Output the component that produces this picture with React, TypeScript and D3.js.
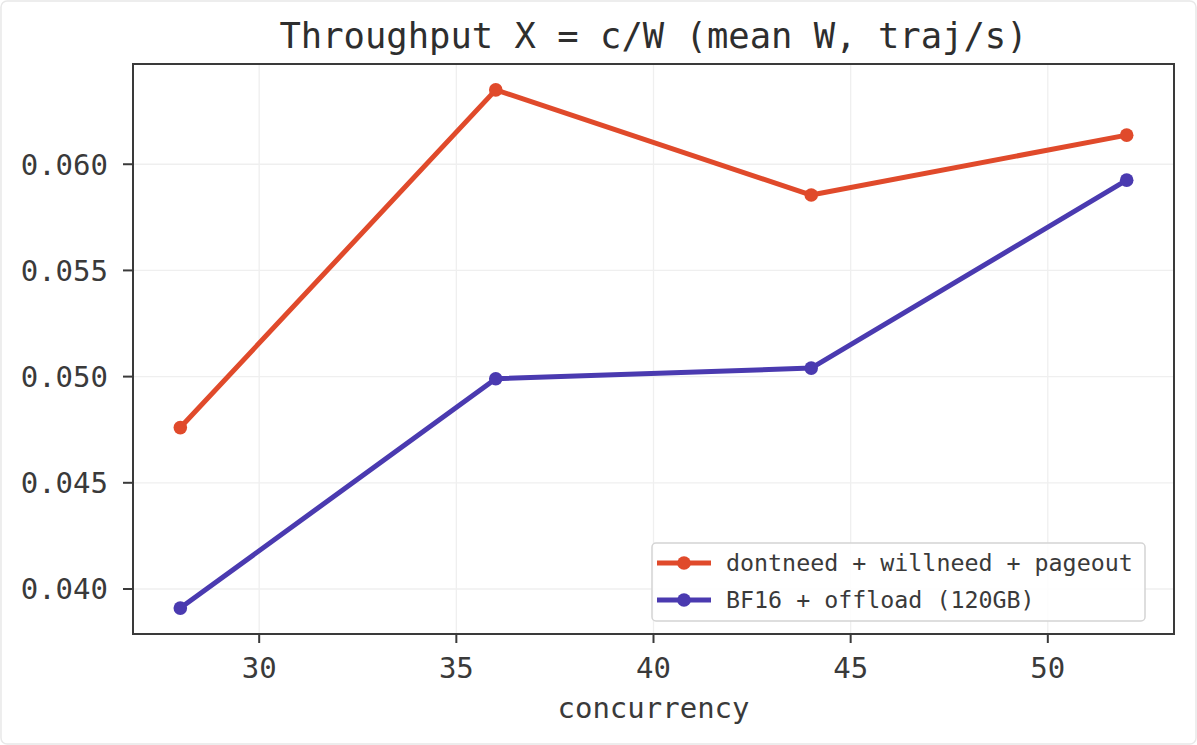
import React from "react";
import * as d3 from "d3";

const concurrency = [28, 36, 44, 52];
const seriesNames = ["dontneed + willneed + pageout", "BF16 + offload (120GB)"];
const redValues = [0.0476, 0.0635, 0.05855, 0.06137];
const blueValues = [0.0391, 0.0499, 0.0504, 0.05925];
const seriesColors = ["#E04A2B", "#4A3AB0"];
const xTicks = [30, 35, 40, 45, 50];
const yTicks = [0.04, 0.045, 0.05, 0.055, 0.06];
const title = "Throughput X = c/W (mean W, traj/s)";
const xLabel = "concurrency";

const W = 1197;
const H = 745;
const M = { left: 133, right: 1174, top: 64, bottom: 634 };
const FONT = "'DejaVu Sans Mono', monospace";
const TXT = "#3a3a3a";

export default function App() {
  const allVals = [...redValues, ...blueValues];
  const yMin = d3.min(allVals)!;
  const yMax = d3.max(allVals)!;
  const yPad = (yMax - yMin) * 0.05;
  const xMin = d3.min(concurrency)!;
  const xMax = d3.max(concurrency)!;
  const xPad = (xMax - xMin) * 0.05;
  const x = d3.scaleLinear().domain([xMin - xPad, xMax + xPad]).range([M.left, M.right]);
  const y = d3.scaleLinear().domain([yMin - yPad, yMax + yPad]).range([M.bottom, M.top]);
  const line = d3.line<[number, number]>().x((d) => x(d[0])).y((d) => y(d[1]));
  const series = [redValues, blueValues];
  const fmt = d3.format(".3f");

  const legX = 652;
  const legY = 543;
  const legW = 493;
  const legH = 78;
  const rowY = [563, 600];

  return (
    <svg
      width={W}
      height={H}
      style={{ position: "fixed", left: 0, top: 0, background: "#fff" }}
      fontFamily={FONT}
    >
      <rect x={1} y={1} width={W - 2} height={H - 2} rx={6} fill="#fff" stroke="#e8e8e8" strokeWidth={1.5} />
      {/* grid */}
      {xTicks.map((t) => (
        <line key={"gx" + t} x1={x(t)} x2={x(t)} y1={M.top} y2={M.bottom} stroke="#efefef" strokeWidth={1.3} />
      ))}
      {yTicks.map((t) => (
        <line key={"gy" + t} x1={M.left} x2={M.right} y1={y(t)} y2={y(t)} stroke="#efefef" strokeWidth={1.3} />
      ))}
      {/* series */}
      {series.map((vals, i) => (
        <g key={"s" + i}>
          <path
            d={line(concurrency.map((c, j) => [c, vals[j]] as [number, number]))!}
            fill="none"
            stroke={seriesColors[i]}
            strokeWidth={5}
            strokeLinejoin="round"
          />
          {concurrency.map((c, j) => (
            <circle key={j} cx={x(c)} cy={y(vals[j])} r={6.8} fill={seriesColors[i]} />
          ))}
        </g>
      ))}
      {/* spines */}
      <rect
        x={M.left}
        y={M.top}
        width={M.right - M.left}
        height={M.bottom - M.top}
        fill="none"
        stroke="#3a3a3a"
        strokeWidth={2}
      />
      {/* x ticks */}
      {xTicks.map((t) => (
        <g key={"xt" + t}>
          <line x1={x(t)} x2={x(t)} y1={M.bottom} y2={M.bottom + 9} stroke="#3a3a3a" strokeWidth={2} />
          <text x={x(t)} y={678} textAnchor="middle" fontSize={29} fill={TXT}>
            {t}
          </text>
        </g>
      ))}
      {/* y ticks */}
      {yTicks.map((t) => (
        <g key={"yt" + t}>
          <line x1={M.left - 10} x2={M.left} y1={y(t)} y2={y(t)} stroke="#3a3a3a" strokeWidth={2} />
          <text x={108} y={y(t)} dy="0.36em" textAnchor="end" fontSize={29} fill={TXT}>
            {fmt(t)}
          </text>
        </g>
      ))}
      <text x={(M.left + M.right) / 2} y={718} textAnchor="middle" fontSize={29} fill={TXT}>
        {xLabel}
      </text>
      <text x={(M.left + M.right) / 2} y={48} textAnchor="middle" fontSize={35.5} fill="#2e2e2e">
        {title}
      </text>
      {/* legend */}
      <rect x={legX} y={legY} width={legW} height={legH} rx={4} fill="#fff" fillOpacity={0.85} stroke="#d4d4d4" strokeWidth={1.5} />
      {seriesNames.map((name, i) => (
        <g key={"l" + i}>
          <line x1={657} x2={711} y1={rowY[i]} y2={rowY[i]} stroke={seriesColors[i]} strokeWidth={5} />
          <circle cx={684} cy={rowY[i]} r={6.8} fill={seriesColors[i]} />
          <text x={726} y={rowY[i]} dy="0.36em" fontSize={23.3} fill={TXT}>
            {name}
          </text>
        </g>
      ))}
    </svg>
  );
}
